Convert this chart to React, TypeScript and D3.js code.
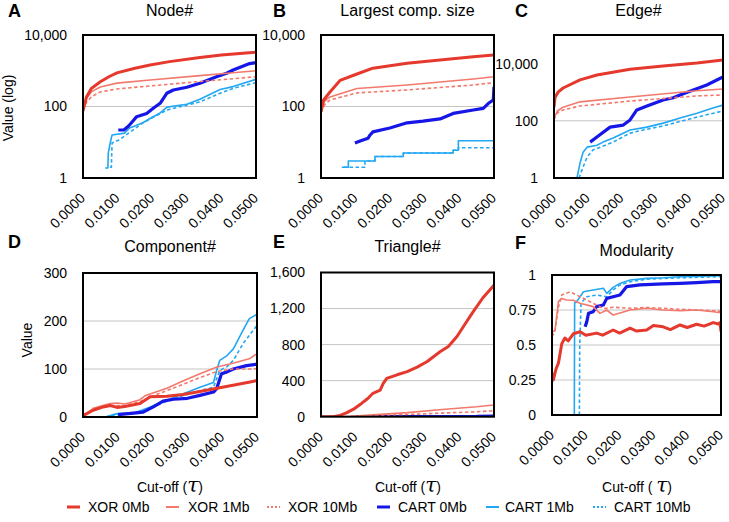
import React from 'react';
import * as d3 from 'd3';

type Pt = [number, number];

// ---------- categories / series ----------
const SERIES_NAMES = ['XOR 0Mb', 'XOR 1Mb', 'XOR 10Mb', 'CART 0Mb', 'CART 1Mb', 'CART 10Mb'];
const CUTOFF_TICKS = [0, 0.01, 0.02, 0.03, 0.04, 0.05];

// ---------- A: Node# ----------
const nodeXor0: Pt[] = [[0, 75], [0.001, 185], [0.0024, 320], [0.005, 490], [0.0075, 680], [0.0098, 870], [0.015, 1180], [0.0194, 1450], [0.025, 1800], [0.0338, 2360], [0.04, 2750], [0.048, 3200], [0.05, 3300]];
const nodeXor1: Pt[] = [[0, 90], [0.001, 170], [0.0025, 260], [0.005, 350], [0.0098, 450], [0.0194, 550], [0.0338, 730], [0.0434, 880], [0.05, 1000]];
const nodeXor10: Pt[] = [[0, 80], [0.001, 130], [0.0025, 190], [0.005, 255], [0.0098, 310], [0.0194, 375], [0.0338, 500], [0.05, 680]];
const nodeCart0: Pt[] = [[0.0102, 22], [0.0118, 22], [0.0131, 28], [0.0145, 40], [0.0155, 52], [0.0184, 64], [0.0203, 89], [0.0223, 123], [0.0242, 234], [0.0261, 290], [0.03, 345], [0.0338, 445], [0.0386, 680], [0.0415, 850], [0.0434, 1050], [0.0478, 1550], [0.05, 1700]];
const nodeCart1: Pt[] = [[0.0064, 1.9], [0.0072, 1.9], [0.0073, 5], [0.0079, 10], [0.0084, 16], [0.012, 18], [0.0135, 25], [0.0173, 35], [0.02, 50], [0.0223, 66], [0.0243, 96], [0.03, 115], [0.0338, 160], [0.0396, 300], [0.0434, 360], [0.05, 575]];
const nodeCart10: Pt[] = [[0.0078, 2], [0.0082, 2], [0.0084, 9.5], [0.0104, 11.5], [0.0135, 19], [0.0173, 35], [0.0243, 80], [0.0338, 135], [0.0396, 234], [0.0434, 322], [0.05, 465]];

// ---------- B: Largest comp. size ----------
const lcsXor0: Pt[] = [[0, 70], [0.0007, 150], [0.0026, 255], [0.0055, 535], [0.0104, 810], [0.015, 1180], [0.0249, 1620], [0.0344, 2000], [0.044, 2450], [0.05, 2750]];
const lcsXor1: Pt[] = [[0, 70], [0.001, 140], [0.0026, 185], [0.0104, 320], [0.0249, 400], [0.044, 590], [0.05, 680]];
const lcsXor10: Pt[] = [[0, 70], [0.001, 110], [0.0026, 152], [0.0104, 240], [0.0249, 290], [0.044, 400], [0.05, 465]];
const lcsCart0: Pt[] = [[0.0098, 9.5], [0.0115, 11], [0.0136, 13], [0.0142, 16], [0.015, 19.5], [0.0199, 25], [0.0249, 35], [0.0295, 39], [0.0344, 45], [0.0382, 64], [0.044, 80], [0.0469, 89], [0.0484, 123], [0.0498, 152], [0.05, 357]];
const lcsCart1: Pt[] = [[0.006, 2], [0.0079, 3], [0.0156, 4], [0.0238, 5], [0.0382, 6], [0.0397, 11], [0.05, 11]];
const lcsCart10: Pt[] = [[0.0065, 2], [0.0127, 3], [0.0156, 4], [0.0238, 5], [0.0382, 6], [0.0397, 7], [0.05, 7]];

// ---------- C: Edge# ----------
const edgeXor0: Pt[] = [[0, 300], [0.0003, 650], [0.0012, 1000], [0.0027, 1400], [0.0077, 2700], [0.0127, 4000], [0.0225, 6300], [0.0323, 8300], [0.0423, 10500], [0.05, 13500]];
const edgeXor1: Pt[] = [[0, 120], [0.001, 220], [0.0027, 300], [0.0077, 460], [0.0225, 680], [0.0423, 1120], [0.05, 1300]];
const edgeXor10: Pt[] = [[0, 110], [0.001, 190], [0.0027, 240], [0.0077, 330], [0.0225, 490], [0.0423, 740], [0.05, 800]];
const edgeCart0: Pt[] = [[0.0107, 18], [0.0127, 27], [0.0166, 60], [0.0205, 71], [0.0225, 107], [0.0245, 240], [0.0275, 330], [0.0323, 535], [0.0353, 640], [0.0373, 800], [0.0412, 1200], [0.0452, 1780], [0.05, 3400]];
const edgeCart1: Pt[] = [[0.0068, 1], [0.0077, 3.3], [0.0086, 8], [0.0098, 12], [0.0127, 14], [0.0145, 18], [0.0175, 25], [0.0225, 48], [0.0275, 60], [0.0323, 83], [0.0373, 125], [0.0423, 185], [0.047, 280], [0.05, 355]];
const edgeCart10: Pt[] = [[0.0074, 1], [0.0086, 2.4], [0.0098, 5.4], [0.0115, 9.5], [0.0175, 18], [0.0225, 37], [0.0254, 45], [0.0323, 66], [0.0423, 135], [0.05, 220]];

// ---------- D: Component# ----------
const compXor0: Pt[] = [[0, 3], [0.0029, 14], [0.0058, 21], [0.0078, 24], [0.0098, 20], [0.012, 22], [0.0164, 28], [0.0193, 42], [0.0241, 43], [0.0287, 47], [0.0336, 53], [0.0385, 60], [0.0431, 66], [0.048, 73], [0.05, 76]];
const compXor1: Pt[] = [[0, 0], [0.0029, 18], [0.0078, 28], [0.0098, 29], [0.012, 27], [0.0164, 36], [0.018, 45], [0.0241, 60], [0.0287, 75], [0.0336, 90], [0.0385, 104], [0.0431, 112], [0.048, 122], [0.05, 132]];
const compXor10: Pt[] = [[0, 0], [0.0029, 14], [0.0078, 24], [0.012, 24], [0.0164, 32], [0.0193, 42], [0.0241, 55], [0.0287, 68], [0.0336, 82], [0.0385, 95], [0.0431, 100], [0.048, 100], [0.05, 101]];
const compCart0: Pt[] = [[0.0101, 5], [0.0145, 8], [0.0173, 10], [0.0202, 21], [0.023, 33], [0.026, 37], [0.03, 39], [0.0336, 45], [0.0375, 52], [0.0384, 59], [0.0398, 90], [0.0414, 94], [0.0432, 100], [0.047, 107], [0.05, 110]];
const compCart1: Pt[] = [[0.0064, 0], [0.0098, 7], [0.0145, 8], [0.0193, 21], [0.0241, 35], [0.029, 49], [0.0336, 62], [0.0375, 72], [0.0384, 97], [0.0393, 118], [0.0414, 128], [0.0432, 142], [0.046, 181], [0.0478, 205], [0.05, 214]];
const compCart10: Pt[] = [[0.0064, 0], [0.0098, 5], [0.0145, 7], [0.0193, 18], [0.0241, 33], [0.029, 45], [0.0336, 55], [0.0375, 62], [0.0393, 97], [0.0414, 105], [0.0432, 118], [0.046, 153], [0.05, 191]];

// ---------- E: Triangle# ----------
const triXor0: Pt[] = [[0, 0], [0.0035, 0], [0.0055, 15], [0.0075, 45], [0.0098, 93], [0.0118, 150], [0.0136, 205], [0.015, 260], [0.0171, 295], [0.018, 370], [0.019, 425], [0.022, 465], [0.0249, 500], [0.0278, 550], [0.0307, 612], [0.0344, 720], [0.0368, 780], [0.0393, 890], [0.0415, 1020], [0.0439, 1160], [0.0468, 1320], [0.05, 1460]];
const triXor1: Pt[] = [[0, 0], [0.008, 2], [0.015, 20], [0.025, 45], [0.035, 80], [0.045, 110], [0.05, 130]];
const triXor10: Pt[] = [[0, 0], [0.008, 1], [0.015, 12], [0.025, 25], [0.035, 40], [0.045, 55], [0.05, 67]];
const triCart0: Pt[] = [[0.0101, 0], [0.03, 1], [0.045, 3], [0.05, 8]];
const triCart1: Pt[] = [[0.0064, 0], [0.05, 2]];
const triCart10: Pt[] = [[0.0078, 0], [0.05, 1]];

// ---------- F: Modularity ----------
const modXor0: Pt[] = [[0, 0.3], [0.0004, 0.25], [0.0012, 0.33], [0.0019, 0.37], [0.0029, 0.51], [0.0038, 0.55], [0.0048, 0.53], [0.0063, 0.58], [0.0083, 0.595], [0.01, 0.57], [0.0132, 0.585], [0.015, 0.57], [0.0181, 0.607], [0.02, 0.585], [0.0231, 0.62], [0.025, 0.6], [0.028, 0.607], [0.03, 0.64], [0.0329, 0.63], [0.035, 0.61], [0.0379, 0.643], [0.04, 0.625], [0.0428, 0.648], [0.045, 0.635], [0.0477, 0.66], [0.0492, 0.65], [0.0497, 0.66], [0.05, 0.595]];
const modXor1: Pt[] = [[0, 0.59], [0.0009, 0.607], [0.0019, 0.81], [0.0029, 0.833], [0.0043, 0.821], [0.0063, 0.82], [0.0083, 0.798], [0.0122, 0.774], [0.0142, 0.726], [0.0162, 0.75], [0.0181, 0.714], [0.0231, 0.75], [0.028, 0.762], [0.0329, 0.75], [0.0379, 0.745], [0.0428, 0.75], [0.0477, 0.738], [0.05, 0.73]];
const modXor10: Pt[] = [[0, 0.56], [0.0009, 0.6], [0.0019, 0.77], [0.0029, 0.857], [0.0053, 0.88], [0.0083, 0.845], [0.0112, 0.81], [0.0152, 0.76], [0.0181, 0.77], [0.0231, 0.762], [0.028, 0.768], [0.0329, 0.762], [0.0379, 0.755], [0.0428, 0.75], [0.0477, 0.745], [0.05, 0.74]];
const modCart0: Pt[] = [[0.0098, 0.631], [0.0103, 0.667], [0.0108, 0.726], [0.0122, 0.738], [0.0132, 0.774], [0.0152, 0.786], [0.0162, 0.833], [0.0181, 0.845], [0.0201, 0.857], [0.0221, 0.917], [0.026, 0.929], [0.0329, 0.936], [0.0379, 0.94], [0.0428, 0.945], [0.0477, 0.952], [0.05, 0.952]];
const modCart1: Pt[] = [[0.0066, 0], [0.0067, 0.8], [0.0073, 0.81], [0.0083, 0.845], [0.0093, 0.88], [0.0122, 0.893], [0.0152, 0.905], [0.0162, 0.869], [0.0181, 0.912], [0.0201, 0.94], [0.0231, 0.964], [0.028, 0.976], [0.0329, 0.98], [0.0379, 0.988], [0.0477, 0.993], [0.05, 0.995]];
const modCart10: Pt[] = [[0.0081, 0], [0.0082, 0.5], [0.0086, 0.8], [0.0103, 0.845], [0.0132, 0.857], [0.0162, 0.845], [0.0181, 0.893], [0.0201, 0.929], [0.0231, 0.952], [0.028, 0.97], [0.0379, 0.98], [0.05, 0.988]];

// ---------- y ticks ----------
const LOG_TICKS = [1, 100, 10000];
const COMP_TICKS = [0, 100, 200, 300];
const TRI_TICKS = [0, 400, 800, 1200, 1600];
const MOD_TICKS = [0, 0.25, 0.5, 0.75, 1];

// ---------- styles ----------
const STYLES = [
  { color: '#e6392d', width: 3, dash: '' },
  { color: '#f3796d', width: 1.6, dash: '' },
  { color: '#f3796d', width: 1.6, dash: '3.5,2.5' },
  { color: '#1616e6', width: 3.2, dash: '' },
  { color: '#22a7f2', width: 1.6, dash: '' },
  { color: '#22a7f2', width: 1.6, dash: '3.5,2.5' },
];
const FONT = '"Liberation Sans", Arial, Helvetica, sans-serif';

type PanelCfg = {
  id: string; letter: string; title: string;
  x0: number; x1: number; y0: number; y1: number;
  log: boolean; domain: [number, number]; ticks: number[]; grid: number[];
  fmt: (v: number) => string; series: Pt[][]; step?: boolean[];
  titleY: number; letterX: number; letterY: number;
};

const commaFmt = d3.format(',');
const PANELS: PanelCfg[] = [
  { id: 'A', letter: 'A', title: 'Node#', x0: 83, x1: 256, y0: 35, y1: 178, log: true, domain: [1, 10000], ticks: LOG_TICKS, grid: [100], fmt: commaFmt,
    series: [nodeXor0, nodeXor1, nodeXor10, nodeCart0, nodeCart1, nodeCart10], titleY: 16, letterX: 8, letterY: 17 },
  { id: 'B', letter: 'B', title: 'Largest comp. size', x0: 321, x1: 494, y0: 35, y1: 178, log: true, domain: [1, 10000], ticks: LOG_TICKS, grid: [100], fmt: commaFmt,
    series: [lcsXor0, lcsXor1, lcsXor10, lcsCart0, lcsCart1, lcsCart10], step: [false, false, false, false, true, true], titleY: 16, letterX: 273, letterY: 17 },
  { id: 'C', letter: 'C', title: 'Edge#', x0: 554, x1: 723, y0: 35, y1: 178, log: true, domain: [1, 100000], ticks: LOG_TICKS, grid: [100], fmt: commaFmt,
    series: [edgeXor0, edgeXor1, edgeXor10, edgeCart0, edgeCart1, edgeCart10], titleY: 16, letterX: 515, letterY: 17 },
  { id: 'D', letter: 'D', title: 'Component#', x0: 83, x1: 257, y0: 273, y1: 417, log: false, domain: [0, 300], ticks: COMP_TICKS, grid: [100, 200], fmt: commaFmt,
    series: [compXor0, compXor1, compXor10, compCart0, compCart1, compCart10], titleY: 252, letterX: 8, letterY: 248 },
  { id: 'E', letter: 'E', title: 'Triangle#', x0: 321, x1: 494, y0: 272.5, y1: 416.7, log: false, domain: [0, 1600], ticks: TRI_TICKS, grid: [400, 800, 1200], fmt: commaFmt,
    series: [triXor0, triXor1, triXor10, triCart0, triCart1, triCart10], titleY: 252, letterX: 273, letterY: 248 },
  { id: 'F', letter: 'F', title: 'Modularity', x0: 552, x1: 721, y0: 275, y1: 415, log: false, domain: [0, 1], ticks: MOD_TICKS, grid: [0.25, 0.5, 0.75], fmt: (v) => String(v),
    series: [modXor0, modXor1, modXor10, modCart0, modCart1, modCart10], titleY: 256, letterX: 515, letterY: 249 },
];

function Panel({ p }: { p: PanelCfg }) {
  const x = d3.scaleLinear().domain([0, 0.05]).range([p.x0, p.x1]);
  const y = p.log
    ? d3.scaleLog().domain(p.domain).range([p.y1, p.y0])
    : d3.scaleLinear().domain(p.domain).range([p.y1, p.y0]);
  const order = [5, 4, 3, 2, 1, 0];
  return (
    <g>
      <defs>
        <clipPath id={'clip' + p.id}>
          <rect x={p.x0} y={p.y0 - 1} width={p.x1 - p.x0} height={p.y1 - p.y0 + 1} />
        </clipPath>
      </defs>
      {p.grid.map((g) => (
        <line key={'g' + g} x1={p.x0} x2={p.x1} y1={y(g)} y2={y(g)} stroke="#c4c4c4" strokeWidth={1} />
      ))}
      <g clipPath={`url(#clip${p.id})`}>
        {order.map((i) => {
          const gen = d3.line<Pt>().x((d) => x(d[0])).y((d) => y(d[1]))
            .curve(p.step && p.step[i] ? d3.curveStepAfter : d3.curveLinear);
          const s = STYLES[i];
          return (
            <path key={i} d={gen(p.series[i]) || ''} fill="none" stroke={s.color} strokeWidth={s.width}
              strokeDasharray={s.dash || undefined} strokeLinejoin="round" />
          );
        })}
      </g>
      <rect x={p.x0} y={p.y0} width={p.x1 - p.x0} height={p.y1 - p.y0} fill="none" stroke="#000" strokeWidth={2} />
      {p.ticks.map((t) => (
        <text key={'y' + t} x={p.x0 - 16} y={y(t)} dy="0.35em" textAnchor="end" fontSize={14} fontFamily={FONT} fill="#000">
          {p.fmt(t)}
        </text>
      ))}
      {CUTOFF_TICKS.map((t) => (
        <text key={'x' + t} transform={`translate(${x(t) + 3},${p.y1 + 21}) rotate(-45)`} textAnchor="end" fontSize={14} fontFamily={FONT} fill="#000">
          {d3.format('.4f')(t)}
        </text>
      ))}
      <text x={(p.x0 + p.x1) / 2} y={p.titleY} textAnchor="middle" fontSize={16} fontFamily={FONT} fill="#000">{p.title}</text>
      <text x={p.letterX} y={p.letterY} fontSize={18} fontWeight="bold" fontFamily={FONT} fill="#000">{p.letter}</text>
    </g>
  );
}

const LEGEND_SWATCH_X = [67, 166, 267, 377, 486, 593];
const LEGEND_TEXT_X = [88, 188, 288, 398, 505, 614];
const CUT_X = [170, 408, 637];

export default function App() {
  return (
    <svg width={729} height={522} viewBox="0 0 729 522" style={{ position: 'absolute', left: 0, top: 0, background: '#fff' }}>
      <rect x={0} y={0} width={729} height={522} fill="#fff" />
      {PANELS.map((p) => <Panel key={p.id} p={p} />)}
      <text transform="translate(13,108) rotate(-90)" textAnchor="middle" fontSize={14} fontFamily={FONT}>Value (log)</text>
      <text transform="translate(32,340) rotate(-90)" textAnchor="middle" fontSize={14} fontFamily={FONT}>Value</text>
      {CUT_X.map((cx, i) => (
        <text key={'c' + i} x={cx} y={492} textAnchor="middle" fontSize={14} fontFamily={FONT}>
          {i === 2 ? 'Cut-off ( ' : 'Cut-off ('}
          <tspan fontFamily="'DejaVu Serif', 'Liberation Serif', serif" fontStyle="italic" fontSize={20}>τ</tspan>
          {')'}
        </text>
      ))}
      {SERIES_NAMES.map((n, i) => {
        const s = STYLES[i];
        const sx = LEGEND_SWATCH_X[i];
        return (
          <g key={n}>
            <line x1={sx} x2={sx + 13} y1={507} y2={507} stroke={s.color} strokeWidth={i === 0 || i === 3 ? 3 : 2}
              strokeDasharray={s.dash ? '2,2' : undefined} />
            <text x={LEGEND_TEXT_X[i]} y={512} fontSize={14} fontFamily={FONT}>{n}</text>
          </g>
        );
      })}
    </svg>
  );
}
